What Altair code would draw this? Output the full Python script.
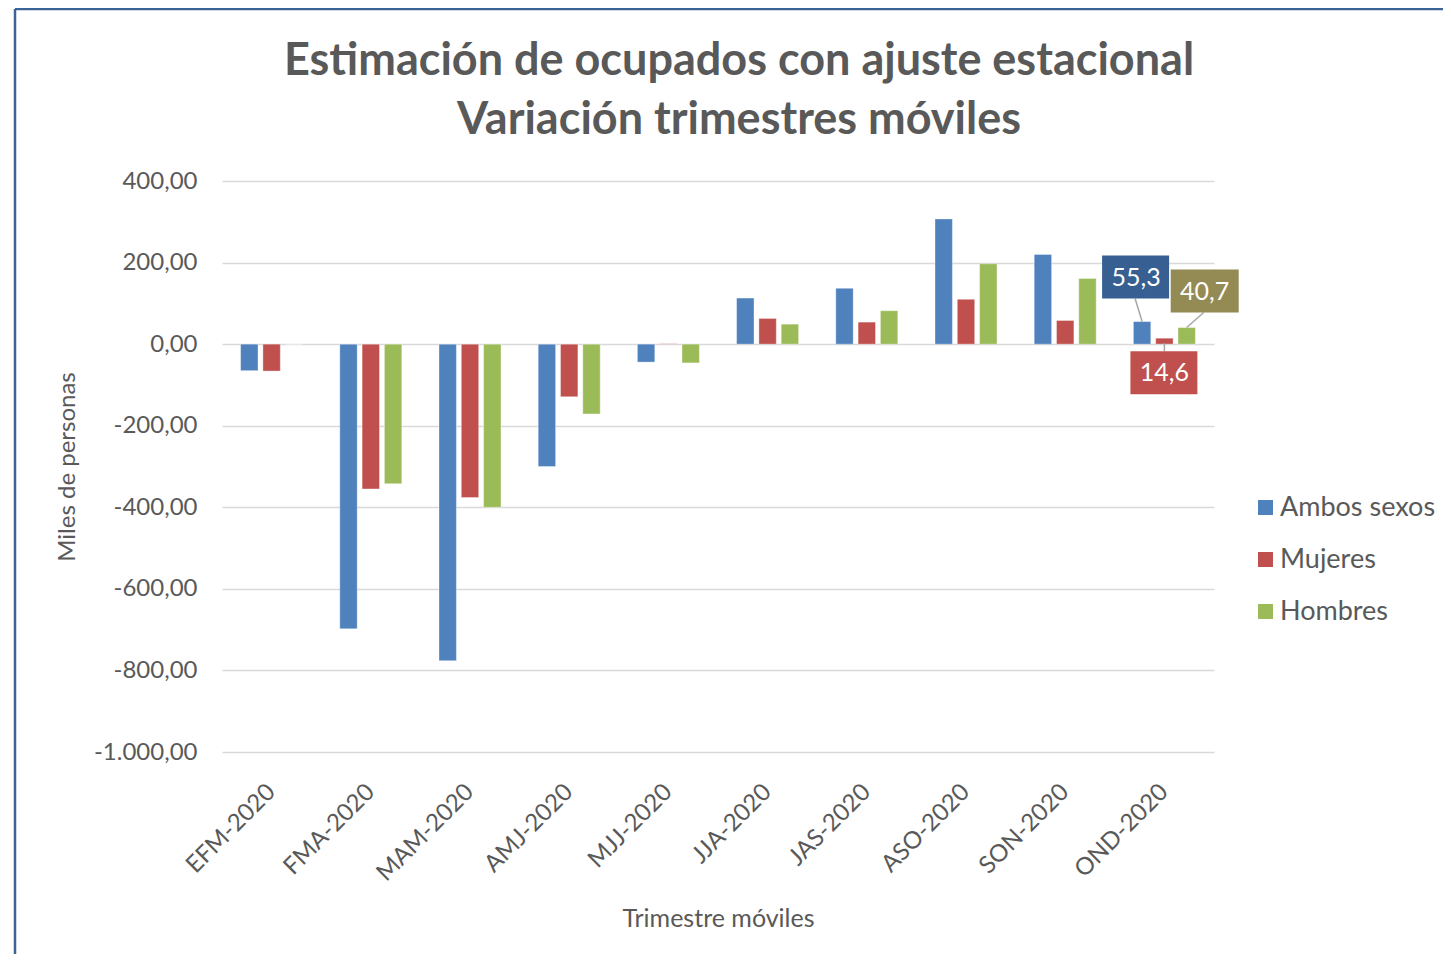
import altair as alt
import pandas as pd

title_lines = ["Estimación de ocupados con ajuste estacional", "Variación trimestres móviles"]
categories = ["EFM-2020", "FMA-2020", "MAM-2020", "AMJ-2020", "MJJ-2020",
              "JJA-2020", "JAS-2020", "ASO-2020", "SON-2020", "OND-2020"]
series = ["Ambos sexos", "Mujeres", "Hombres"]
ambos = [-65, -698, -776, -300, -44, 113, 137, 307, 220, 55.3]
mujeres = [-66, -355, -376, -129, 1, 63, 54, 110, 58, 14.6]
hombres = [0, -342, -400, -171, -46, 49, 82, 197, 161, 40.7]
colors = ["#4f81bd", "#c0504d", "#9bbb59"]
y_ticks = [400, 200, 0, -200, -400, -600, -800, -1000]
labelled_category = "OND-2020"

rows = []
for name, vals in zip(series, [ambos, mujeres, hombres]):
    for c, v in zip(categories, vals):
        rows.append({"cat": c, "serie": name, "valor": v})
df = pd.DataFrame(rows)
one = pd.DataFrame({"k": [0]})

FONT = "Lato"
GREY = "#595959"

x_enc = alt.X("cat:N", sort=categories, title="Trimestre móviles",
              scale=alt.Scale(paddingInner=0.375, paddingOuter=0.1875),
              axis=alt.Axis(labelAngle=-45, labelAlign="right", labelBaseline="middle",
                            labelFontSize=24, labelFont=FONT, labelColor=GREY,
                            labelPadding=36, domain=False, ticks=False, grid=False,
                            titleFont=FONT, titleFontSize=25, titleFontWeight="normal",
                            titleColor=GREY, titlePadding=21))
xo_enc = alt.XOffset("serie:N", sort=series,
                     scale=alt.Scale(domain=series, paddingInner=0.22, paddingOuter=0))
y_enc = alt.Y("valor:Q", title="Miles de personas",
              scale=alt.Scale(domain=[-1000, 400], nice=False, zero=True),
              axis=alt.Axis(values=y_ticks, format=",.2f", domain=False, ticks=False,
                            grid=True, gridColor="#d9d9d9", gridWidth=1.5,
                            labelFontSize=24, labelFont=FONT, labelColor=GREY,
                            labelPadding=25, titleFont=FONT, titleFontSize=24,
                            titleFontWeight="normal", titleColor=GREY, titlePadding=14))

bars = alt.Chart(df).mark_bar(stroke="#ffffff", strokeWidth=0.6, strokeOpacity=0.6).encode(
    x=x_enc, xOffset=xo_enc, y=y_enc,
    color=alt.Color("serie:N", sort=series,
                    scale=alt.Scale(domain=series, range=colors),
                    legend=alt.Legend(title=None, orient="none", legendX=1030, legendY=313,
                                      symbolType="square", symbolSize=225,
                                      symbolStrokeWidth=0, labelFont=FONT,
                                      labelFontSize=27, labelColor=GREY,
                                      labelOffset=1, rowPadding=24, padding=0))
)

# data-label callouts (box offset, leader line, text offset) per series
callouts = {
    "Ambos sexos": dict(fill="#375f92",
                        box="M-40,-66L27,-66L27,-23L-40,-23Z",
                        line="M-7,-23L0,0", dx=-6, dy=-44),
    "Mujeres": dict(fill="#c0504d",
                    box="M-34,13L33,13L33,56L-34,56Z",
                    line="M0,5L0,13", dx=0, dy=35),
    "Hombres": dict(fill="#948a54",
                    box="M-16,-58L52,-58L52,-15L-16,-15Z",
                    line="M0,0L17,-15", dx=18, dy=-36),
}

layers = [bars]
for s in series:
    cfg = callouts[s]
    base = alt.Chart(df).transform_filter(
        (alt.datum.cat == labelled_category) & (alt.datum.serie == s)
    ).encode(x=alt.X("cat:N", sort=categories), xOffset=alt.XOffset("serie:N", sort=series),
             y=alt.Y("valor:Q"))
    leader = base.mark_point(shape=cfg["line"], size=4, filled=False,
                             stroke="#a6a6a6", strokeWidth=1.5, opacity=1)
    box = base.mark_point(shape=cfg["box"], size=4, filled=True,
                          fill=cfg["fill"], strokeWidth=0, opacity=1)
    txt = base.mark_text(dx=cfg["dx"], dy=cfg["dy"], font=FONT, fontSize=25,
                         color="#ffffff").encode(text=alt.Text("valor:Q", format=",.1f"))
    layers += [leader, box, txt]

# chart title (two lines) as text
title = alt.Chart(one).mark_text(
    text=title_lines, font=FONT, fontSize=45, fontWeight="bold", color=GREY,
    lineHeight=59, align="center", baseline="alphabetic"
).encode(x=alt.value(517), y=alt.value(-106))
layers.append(title)

# outer chart frame
frame_v = alt.Chart(one).mark_rule(color="#3b6396", strokeWidth=2.5).encode(
    x=alt.value(-207), y=alt.value(-172), y2=alt.value(773))
frame_h = alt.Chart(one).mark_rule(color="#3b6396", strokeWidth=2.5).encode(
    x=alt.value(-207), x2=alt.value(1221), y=alt.value(-172))
layers += [frame_v, frame_h]

chart = alt.layer(*layers).properties(
    width=992, height=571,
    background="white",
    autosize=alt.AutoSizeParams(type="none"),
    padding={"left": 214, "top": 173, "right": 229, "bottom": 202},
).configure_view(strokeWidth=0, stroke="transparent")

chart.save("out.html", embed_options={
    "renderer": "svg", "actions": False,
    "formatLocale": {"decimal": ",", "thousands": ".", "grouping": [3],
                     "currency": ["", " €"], "minus": "-"}})
